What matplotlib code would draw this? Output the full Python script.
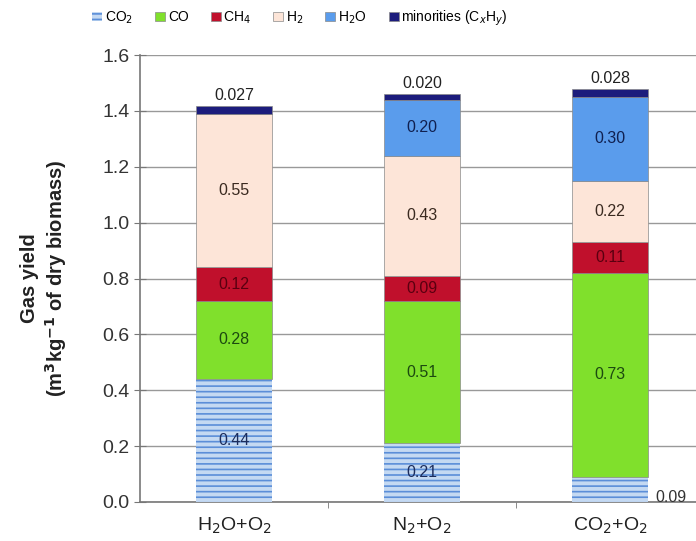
import matplotlib.pyplot as plt
import numpy as np

# gas yield per atmosphere, m3/kg dry biomass
categories = ['H$_2$O+O$_2$', 'N$_2$+O$_2$', 'CO$_2$+O$_2$']
species = ['CO$_2$', 'CO', 'CH$_4$', 'H$_2$', 'H$_2$O', 'minorities (C$_x$H$_y$)']
co2 = [0.44, 0.21, 0.09]
co = [0.28, 0.51, 0.73]
ch4 = [0.12, 0.09, 0.11]
h2 = [0.55, 0.43, 0.22]
h2o = [0.0, 0.20, 0.30]
minor = [0.027, 0.020, 0.028]

co2_lbl = ['0.44', '0.21', '0.09']
co_lbl = ['0.28', '0.51', '0.73']
ch4_lbl = ['0.12', '0.09', '0.11']
h2_lbl = ['0.55', '0.43', '0.22']
h2o_lbl = ['', '0.20', '0.30']
minor_lbl = ['0.027', '0.020', '0.028']

plt.rcParams['font.family'] = 'Liberation Sans'
plt.rcParams['hatch.linewidth'] = 1.2

fig = plt.figure(figsize=(6.96, 5.41), dpi=100)
ax = fig.add_axes([140 / 696, 39 / 541, 564 / 696, 447 / 541])

x = np.arange(len(categories))
w = 0.4
series = [co2, co, ch4, h2, h2o, minor]
labels = [co2_lbl, co_lbl, ch4_lbl, h2_lbl, h2o_lbl, minor_lbl]
faces = ['#c4d9f2', '#80e02c', '#c0102c', '#fde5d8', '#5a9cec', '#1c1c7c']
txtcol = ['#1c2c5c', '#1c4a10', '#5a0010', '#3a2a20', '#102050', '#222222']

bottom = np.zeros(len(categories))
handles = []
for i, vals in enumerate(series):
    vals = np.array(vals)
    if i == 0:
        b = ax.bar(x, vals, w, bottom=bottom, color=faces[i], edgecolor='#5b8ed8',
                   hatch='---', linewidth=0, zorder=3)
    else:
        b = ax.bar(x, vals, w, bottom=bottom, color=faces[i], edgecolor='#8a8a8a',
                   linewidth=0.5, zorder=3)
    handles.append(b)
    for j in range(len(categories)):
        t = labels[i][j]
        if not t:
            continue
        if i == 5:
            ax.text(x[j], bottom[j] + vals[j] + 0.012, t, ha='center', va='bottom',
                    fontsize=11.5, color=txtcol[i], zorder=4)
        elif i == 0 and j == 2:
            ax.text(x[j] + w / 2 + 0.04, bottom[j] + vals[j] / 2 - 0.03, t, ha='left',
                    va='center', fontsize=11.5, color='#333333', zorder=4)
        else:
            ax.text(x[j], bottom[j] + vals[j] / 2, t, ha='center', va='center',
                    fontsize=11.5, color=txtcol[i], zorder=4)
    bottom = bottom + vals

ax.set_xlim(-0.5, 2.5)
ax.set_ylim(0, 1.6)
ax.set_yticks(np.arange(0, 1.61, 0.2))
ax.set_yticklabels([f'{v:.1f}' for v in np.arange(0, 1.61, 0.2)], fontsize=14, color='#333333')
ax.set_xticks(x)
ax.set_xticklabels(categories, fontsize=14, color='#222222')
ax.set_xticks([0.5, 1.5], minor=True)
ax.tick_params(axis='x', which='major', length=0, pad=10)
ax.tick_params(axis='x', which='minor', length=4, color='#777777')
ax.tick_params(axis='y', direction='inout', length=8, color='#777777')
ax.grid(axis='y', color='#999999', linewidth=1, zorder=0)
for s in ['top', 'right']:
    ax.spines[s].set_visible(False)
for s in ['left', 'bottom']:
    ax.spines[s].set_color('#777777')
    ax.spines[s].set_linewidth(1.2)

ax.set_ylabel('Gas yield\n(m$^{\\mathbf{3}}$kg$^{\\mathbf{-1}}$ of dry biomass)', fontsize=14.5,
              fontweight='bold', color='#222222', labelpad=24)

fig.legend(handles, species, loc='center', bbox_to_anchor=(300 / 696, 1 - 18 / 541),
           ncol=6, frameon=False, fontsize=10, handlelength=0.7, handleheight=0.7,
           handletextpad=0.2, columnspacing=1.6)

plt.savefig('out.png', dpi=100)
